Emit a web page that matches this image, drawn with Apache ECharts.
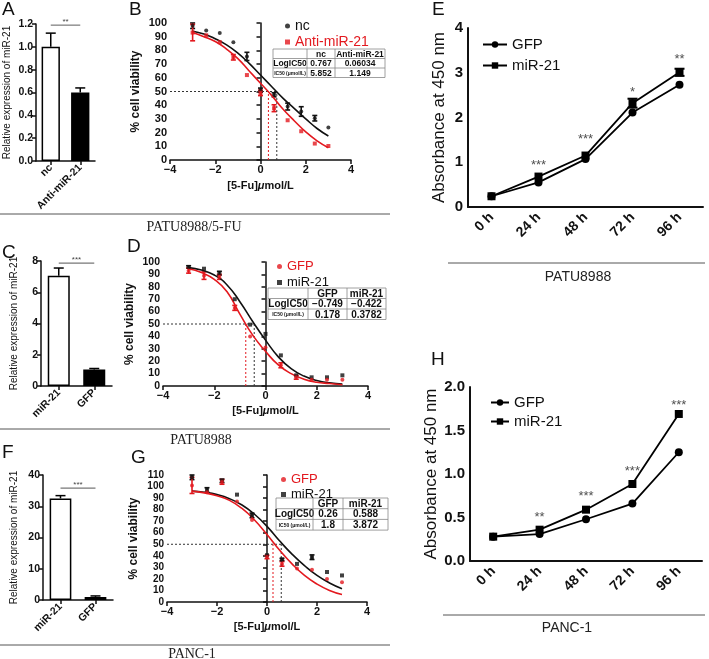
<!DOCTYPE html>
<html>
<head>
<meta charset="utf-8">
<script src="https://cdn.jsdelivr.net/npm/echarts@6/dist/echarts.min.js"></script>
<style>html,body{margin:0;padding:0;background:#fff}#c{width:709px;height:659px}</style>
</head>
<body>
<div id="c"></div>
<script>
// ---------------- DATA ----------------
// Panel A (bar)
const catA = ['nc', 'Anti-miR-21'];
const valA = [1.0, 0.6];
const errA = [0.12, 0.04];
// Panel C (bar)
const catC = ['miR-21', 'GFP'];
const valC = [7.05, 1.05];
const errC = [0.5, 0.07];
// Panel F (bar)
const catF = ['miR-21', 'GFP'];
const valF = [32.5, 1.0];
const errF = [0.9, 0.3];

// dose-response x values (log concentration)
const doses = [-3, -2.4, -1.8, -1.2, -0.6, 0, 0.6, 1.2, 1.8, 2.4, 3];
const fitX = [-3, -2.5, -2, -1.5, -1, -0.5, 0, 0.5, 1, 1.5, 2, 2.5, 3];

// Panel B
const ncB = [98, 94.6, 92.7, 85.9, 75.6, 51, 47.6, 39, 35.4, 30.5, 23.7];
const ncBErr = [2, 0, 0, 0, 3, 1.5, 1.5, 2.5, 3.5, 2, 0];
const antiB = [93, 91, 86, 75, 62, 49, 37.8, 29, 21, 12, 10.2];
const antiBErr = [6, 0, 0, 2, 0, 2, 2.5, 0, 0, 0, 0];
const ncBFit = [94, 92, 88.5, 84, 78, 70.5, 62, 53.5, 45, 37.5, 30, 23, 17.5];
const antiBFit = [93, 90, 86.5, 81, 74, 65, 56, 47, 37, 28.5, 20.5, 14, 9];
const icB = { black: 0.72, red: 0.35 };

// Panel D
const gfpD = [93, 89, 88, 63, 40, 31, 16.7, 7, 5, 5, 5];
const gfpDErr = [2, 3, 2, 2, 0, 0, 2, 1.5, 0, 0, 0];
const mirD = [96, 94.6, 91, 70, 49.5, 42, 24.7, 8.6, 7, 7, 8.6];
const mirDErr = [1, 0, 1.5, 0, 0, 0, 0, 0, 0, 0, 0];
const gfpDFit = [94.5, 91.5, 86, 76, 58, 41, 28, 17, 10, 5.5, 3, 2, 1];
const mirDFit = [95.5, 93.5, 89.5, 81.5, 68, 52, 37, 23.5, 14, 8, 4.5, 2.5, 1.5];
const icD = { black: -0.44, red: -0.77 };

// Panel G
const gfpG = [101, 95, 104, 87, 71, 39, 33, 29, 28, 20, 17];
const gfpGErr = [7, 0, 2, 0, 0, 1.5, 2, 0, 0, 0, 0];
const mirG = [108, 97, 105, 93, 75, 40.5, 36.8, 33, 38.8, 26, 23];
const mirGErr = [2, 2, 1.5, 0, 2, 0, 1, 0, 2, 0, 0];
const gfpGFit = [96, 94.5, 92, 88, 81, 71, 58.5, 45, 33, 23, 15.5, 10, 6.5];
const mirGFit = [96, 95, 93, 89.5, 84, 76, 65.5, 53, 41.5, 31.5, 23, 16.5, 11.5];
const icG = { black: 0.57, red: 0.24 };

// Panels E and H (time course)
const hours = ['0 h', '24 h', '48 h', '72 h', '96 h'];
const gfpE = [0.24, 0.55, 1.07, 2.11, 2.73];
const mirE = [0.24, 0.68, 1.15, 2.32, 3.01];
const mirEErr = [0, 0, 0, 0.1, 0.08];
const sigE = ['***', '***', '*', '**'];
const sigEY = [0.92, 1.50, 2.55, 3.29];
const gfpH = [0.28, 0.31, 0.48, 0.66, 1.25];
const mirH = [0.28, 0.36, 0.59, 0.885, 1.69];
const sigH = ['**', '***', '***', '***'];
const sigHY = [0.50, 0.74, 1.03, 1.79];

// Tables
const tableB = [['', 'nc', 'Anti-miR-21'], ['LogIC50', '0.767', '0.06034'], ['IC50 (μmol/L)', '5.852', '1.149']];
const tableD = [['', 'GFP', 'miR-21'], ['LogIC50', '\u22120.749', '\u22120.422'], ['IC50 (μmol/L)', '0.178', '0.3782']];
const tableG = [['', 'GFP', 'miR-21'], ['LogIC50', '0.26', '0.588'], ['IC50 (μmol/L)', '1.8', '3.872']];

// ---------------- STYLE HELPERS ----------------
const FONT = '"Liberation Sans", Arial, Helvetica, sans-serif';
const SERIF = '"Liberation Serif", "Times New Roman", serif';
const RED = '#e3191f';
const BLK = '#111';

function minusFmt(v) { return v < 0 ? '\u2212' + Math.abs(v) : String(v); }

function valAxis(grid, opt) {
  return Object.assign({
    type: 'value', gridIndex: grid,
    axisLine: { show: true, lineStyle: { color: BLK, width: 1.5 } },
    axisTick: { show: true, length: 4, lineStyle: { color: BLK, width: 1.5 } },
    axisLabel: { color: BLK, fontFamily: FONT, fontWeight: 'bold', fontSize: 10.5, margin: 3 },
    splitLine: { show: false },
    nameLocation: 'middle',
    nameTextStyle: { color: BLK, fontFamily: FONT, fontSize: 10 }
  }, opt);
}
function catAxis(grid, data, opt) {
  return Object.assign({
    type: 'category', gridIndex: grid, data: data, boundaryGap: true,
    axisLine: { show: true, lineStyle: { color: BLK, width: 1.5 } },
    axisTick: { show: true, alignWithLabel: true, length: 4, lineStyle: { color: BLK, width: 1.5 } },
    axisLabel: { color: BLK, fontFamily: FONT, fontWeight: 'bold', fontSize: 10.5, rotate: 45, margin: 5, interval: 0 },
    splitLine: { show: false }
  }, opt);
}

function errRender(color, cap, lw, topOnly) {
  return function (params, api) {
    const x = api.value(0), lo = api.value(1), hi = api.value(2);
    const a = api.coord([x, lo]), b = api.coord([x, hi]);
    const st = { stroke: color, lineWidth: lw };
    const ch = [
      { type: 'line', shape: { x1: a[0], y1: a[1], x2: b[0], y2: b[1] }, style: st },
      { type: 'line', shape: { x1: b[0] - cap, y1: b[1], x2: b[0] + cap, y2: b[1] }, style: st }
    ];
    if (!topOnly) ch.push({ type: 'line', shape: { x1: a[0] - cap, y1: a[1], x2: a[0] + cap, y2: a[1] }, style: st });
    return { type: 'group', children: ch };
  };
}
function errData(xs, v, e) {
  const out = [];
  for (let i = 0; i < v.length; i++) if (e[i] > 0) out.push([xs[i], v[i] - e[i], v[i] + e[i]]);
  return out;
}
function barErrData(v, e) { return v.map((d, i) => [i, d, d + e[i]]); }

function sigRender(text) {
  return function (params, api) {
    const y = api.value(1);
    const a = api.coord([0, y]), b = api.coord([1, y]);
    return { type: 'group', children: [
      { type: 'line', shape: { x1: a[0], y1: a[1], x2: b[0], y2: b[1] }, style: { stroke: '#777', lineWidth: 1.2 } },
      { type: 'text', style: { text: text, x: (a[0] + b[0]) / 2, y: a[1] + 1, align: 'center', verticalAlign: 'bottom', fontSize: 8, fontFamily: FONT, fill: '#444' } }
    ] };
  };
}

function zip(xs, ys) { return xs.map((x, i) => [x, ys[i]]); }

function barSeries(grid, vals, err) {
  return [
    { type: 'bar', xAxisIndex: grid, yAxisIndex: grid, barWidth: '62%', silent: true,
      data: vals.map((v, i) => ({ value: v, itemStyle: { color: i === 0 ? '#fff' : '#000', borderColor: '#000', borderWidth: 1.5 } })) },
    { type: 'custom', xAxisIndex: grid, yAxisIndex: grid, silent: true, z: 1,
      renderItem: errRender('#000', 5, 1.5, true), data: barErrData(vals, err) }
  ];
}

function doseSeries(grid, nameA, colA, symA, vA, eA, fitA, nameB, colB, symB, vB, eB, fitB, ic) {
  const s = [];
  const right = Math.max(ic.black, ic.red);
  s.push({ type: 'line', xAxisIndex: grid, yAxisIndex: grid, data: [[-4, 50], [right, 50]], symbol: 'none', silent: true,
    lineStyle: { color: '#333', width: 1, type: [2, 2] } });
  s.push({ type: 'line', xAxisIndex: grid, yAxisIndex: grid, data: [[ic.black, 0], [ic.black, 50]], symbol: 'none', silent: true,
    lineStyle: { color: '#333', width: 1, type: [2, 2] } });
  s.push({ type: 'line', xAxisIndex: grid, yAxisIndex: grid, data: [[ic.red, 0], [ic.red, 50]], symbol: 'none', silent: true,
    lineStyle: { color: RED, width: 1, type: [2, 2] } });
  s.push({ type: 'line', xAxisIndex: grid, yAxisIndex: grid, data: zip(fitX, fitA), smooth: 0.5, symbol: 'none', silent: true,
    lineStyle: { color: colA, width: 1.6 } });
  s.push({ type: 'line', xAxisIndex: grid, yAxisIndex: grid, data: zip(fitX, fitB), smooth: 0.5, symbol: 'none', silent: true,
    lineStyle: { color: colB, width: 1.6 } });
  s.push({ type: 'custom', xAxisIndex: grid, yAxisIndex: grid, silent: true, renderItem: errRender(colA, 2.5, 1.6, false), data: errData(doses, vA, eA) });
  s.push({ type: 'custom', xAxisIndex: grid, yAxisIndex: grid, silent: true, renderItem: errRender(colB, 2.5, 1.6, false), data: errData(doses, vB, eB) });
  s.push({ name: nameA, type: 'scatter', xAxisIndex: grid, yAxisIndex: grid, data: zip(doses, vA), symbol: symA, symbolSize: 4, itemStyle: { color: colA }, z: 5 });
  s.push({ name: nameB, type: 'scatter', xAxisIndex: grid, yAxisIndex: grid, data: zip(doses, vB), symbol: symB, symbolSize: 4, itemStyle: { color: colB }, z: 5 });
  return s;
}

function timeSeries(grid, gfp, mir, mirErr, sig, sigY, suffix) {
  const s = [
    { name: 'GFP#' + suffix, type: 'line', xAxisIndex: grid, yAxisIndex: grid, data: gfp, symbol: 'circle', symbolSize: 8,
      itemStyle: { color: '#000' }, lineStyle: { color: '#000', width: 1.8 }, z: 3 },
    { name: 'miR-21#' + suffix, type: 'line', xAxisIndex: grid, yAxisIndex: grid, data: mir, symbol: 'rect', symbolSize: 8,
      itemStyle: { color: '#000' }, lineStyle: { color: '#000', width: 1.8 }, z: 3 },
    { type: 'scatter', xAxisIndex: grid, yAxisIndex: grid, data: sigY.map((v, i) => [i + 1, v]), symbolSize: 1, silent: true,
      itemStyle: { color: 'transparent' },
      label: { show: true, position: 'inside', formatter: p => sig[p.dataIndex], fontSize: 13, fontFamily: FONT, color: '#222' } }
  ];
  if (mirErr) {
    s.push({ type: 'custom', xAxisIndex: grid, yAxisIndex: grid, silent: true, z: 4,
      renderItem: errRender('#000', 5, 2, false), data: errData([0, 1, 2, 3, 4], mir, mirErr) });
  }
  return s;
}

function table(x, y, colW, rowH, rows) {
  const ch = [];
  const totalW = colW.reduce((a, b) => a + b, 0);
  const totalH = rowH * rows.length;
  ch.push({ type: 'rect', shape: { x: x, y: y, width: totalW, height: totalH }, style: { fill: '#fff', stroke: '#888', lineWidth: 0.8 } });
  for (let r = 1; r < rows.length; r++)
    ch.push({ type: 'line', shape: { x1: x, y1: y + r * rowH, x2: x + totalW, y2: y + r * rowH }, style: { stroke: '#888', lineWidth: 0.8 } });
  let cx = x;
  for (let c = 0; c < colW.length; c++) {
    if (c > 0) ch.push({ type: 'line', shape: { x1: cx, y1: y, x2: cx, y2: y + totalH }, style: { stroke: '#888', lineWidth: 0.8 } });
    for (let r = 0; r < rows.length; r++) {
      const t = rows[r][c];
      if (!t) continue;
      const small = (c === 0 && r === 2);
      ch.push({ type: 'text', style: { text: t, x: cx + colW[c] / 2, y: y + r * rowH + rowH / 2 + 0.5, align: 'center', verticalAlign: 'middle',
        fontSize: small ? 5 : (rowH > 10 ? 10 : 8.5), fontWeight: 'bold', fontFamily: FONT, fill: '#111' } });
    }
    cx += colW[c];
  }
  return { type: 'group', silent: true, children: ch };
}

function letter(t, x, y) {
  return { type: 'text', style: { text: t, x: x, y: y, fontSize: 19, fontFamily: FONT, fill: '#111' } };
}
function hline(x1, x2, y) {
  return { type: 'line', shape: { x1: x1, y1: y, x2: x2, y2: y }, style: { stroke: '#555', lineWidth: 1 } };
}
function caption(t, x, y, serif) {
  return { type: 'text', style: { text: t, x: x, y: y, align: 'center', verticalAlign: 'middle',
    fontSize: serif ? 14 : 14, fontFamily: serif ? SERIF : FONT, fill: '#222' } };
}

// ---------------- CHART ----------------
const chart = echarts.init(document.getElementById('c'), null, { renderer: 'canvas' });

const doseName = '[5-Fu]{i|μ}mol/L';
const doseNameStyle = { color: BLK, fontFamily: FONT, fontSize: 11, fontWeight: 'bold', rich: { i: { fontStyle: 'italic', fontSize: 11, fontWeight: 'bold', fontFamily: FONT } } };
const viaName = { color: BLK, fontFamily: FONT, fontSize: 12, fontWeight: 'bold' };

const option = {
  animation: false,
  backgroundColor: '#fff',
  grid: [
    { left: 36, top: 24, width: 59, height: 137 },   // A
    { left: 170, top: 23, width: 181, height: 137 }, // B
    { left: 41, top: 261, width: 71, height: 125 },  // C
    { left: 163, top: 262, width: 205, height: 124 },// D
    { left: 43, top: 475, width: 70, height: 125 },  // F
    { left: 167, top: 475, width: 200, height: 127 },// G
    { left: 468, top: 28, width: 235, height: 179 }, // E
    { left: 470, top: 387, width: 232, height: 174 } // H
  ],
  xAxis: [
    catAxis(0, catA),
    valAxis(1, { min: -4, max: 4, interval: 2, axisLabel: { color: BLK, fontFamily: FONT, fontWeight: 'bold', fontSize: 11, margin: 4, formatter: minusFmt },
      name: doseName, nameGap: 20, nameTextStyle: doseNameStyle }),
    catAxis(2, catC),
    valAxis(3, { min: -4, max: 4, interval: 2, axisLabel: { color: BLK, fontFamily: FONT, fontWeight: 'bold', fontSize: 11, margin: 4, formatter: minusFmt },
      name: doseName, nameGap: 19, nameTextStyle: doseNameStyle }),
    catAxis(4, catF),
    valAxis(5, { min: -4, max: 4, interval: 2, axisLabel: { color: BLK, fontFamily: FONT, fontWeight: 'bold', fontSize: 11, margin: 4, formatter: minusFmt },
      name: doseName, nameGap: 19, nameTextStyle: doseNameStyle }),
    catAxis(6, hours, { axisLabel: { color: BLK, fontFamily: FONT, fontWeight: 'bold', fontSize: 14, rotate: 45, margin: 8, interval: 0 },
      axisLine: { lineStyle: { color: BLK, width: 2 } }, axisTick: { alignWithLabel: true, length: 6, lineStyle: { color: BLK, width: 2 } } }),
    catAxis(7, hours, { axisLabel: { color: BLK, fontFamily: FONT, fontWeight: 'bold', fontSize: 14, rotate: 45, margin: 8, interval: 0 },
      axisLine: { lineStyle: { color: BLK, width: 2 } }, axisTick: { alignWithLabel: true, length: 6, lineStyle: { color: BLK, width: 2 } } })
  ],
  yAxis: [
    valAxis(0, { min: 0, max: 1.2, interval: 0.2, axisLabel: { color: BLK, fontFamily: FONT, fontWeight: 'bold', fontSize: 10.5, margin: 3, formatter: v => v.toFixed(1) },
      name: 'Relative expression of miR-21', nameGap: 24 }),
    valAxis(1, { min: 0, max: 100, interval: 10, axisLabel: { color: BLK, fontFamily: FONT, fontWeight: 'bold', fontSize: 11, margin: 3 },
      name: '% cell viability', nameGap: 28, nameTextStyle: viaName }),
    valAxis(2, { min: 0, max: 8, interval: 2, name: 'Relative expression of miR-21', nameGap: 22 }),
    valAxis(3, { min: 0, max: 100, interval: 10, axisLabel: { color: BLK, fontFamily: FONT, fontWeight: 'bold', fontSize: 10.5, margin: 3 },
      name: '% cell viability', nameGap: 27, nameTextStyle: viaName }),
    valAxis(4, { min: 0, max: 40, interval: 10, name: 'Relative expression of miR-21', nameGap: 24 }),
    valAxis(5, { min: 0, max: 110, interval: 10, axisLabel: { color: BLK, fontFamily: FONT, fontWeight: 'bold', fontSize: 10, margin: 3 },
      name: '% cell viability', nameGap: 27, nameTextStyle: viaName }),
    valAxis(6, { min: 0, max: 4, interval: 1, axisLabel: { color: BLK, fontFamily: FONT, fontWeight: 'bold', fontSize: 15, margin: 5 },
      axisLine: { show: true, lineStyle: { color: BLK, width: 2 } }, axisTick: { length: 6, lineStyle: { color: BLK, width: 2 } },
      name: 'Absorbance at 450 nm', nameGap: 20, nameTextStyle: { color: BLK, fontFamily: FONT, fontSize: 17 } }),
    valAxis(7, { min: 0, max: 2, interval: 0.5, axisLabel: { color: BLK, fontFamily: FONT, fontWeight: 'bold', fontSize: 15, margin: 5, formatter: v => v.toFixed(1) },
      axisLine: { show: true, lineStyle: { color: BLK, width: 2 } }, axisTick: { length: 6, lineStyle: { color: BLK, width: 2 } },
      name: 'Absorbance at 450 nm', nameGap: 30, nameTextStyle: { color: BLK, fontFamily: FONT, fontSize: 17 } })
  ],
  legend: [
    { left: 280, top: 14, orient: 'vertical', itemGap: 2, itemWidth: 5, itemHeight: 5, selectedMode: false,
      formatter: n => n.split('#')[0], textStyle: { fontSize: 14, fontFamily: FONT },
      data: [{ name: 'nc#B', textStyle: { color: '#111' } }, { name: 'Anti-miR-21#B', textStyle: { color: RED } }] },
    { left: 272, top: 255, orient: 'vertical', itemGap: 3, itemWidth: 5, itemHeight: 5, selectedMode: false,
      formatter: n => n.split('#')[0], textStyle: { fontSize: 13, fontFamily: FONT },
      data: [{ name: 'GFP#D', textStyle: { color: RED } }, { name: 'miR-21#D', textStyle: { color: '#111' } }] },
    { left: 276, top: 468, orient: 'vertical', itemGap: 2, itemWidth: 5, itemHeight: 5, selectedMode: false,
      formatter: n => n.split('#')[0], textStyle: { fontSize: 13, fontFamily: FONT },
      data: [{ name: 'GFP#G', textStyle: { color: RED } }, { name: 'miR-21#G', textStyle: { color: '#111' } }] },
    { left: 477, top: 32, orient: 'vertical', itemGap: 6, itemWidth: 24, itemHeight: 8, selectedMode: false,
      formatter: n => n.split('#')[0], textStyle: { fontSize: 15, fontFamily: FONT, color: '#111' },
      data: ['GFP#E', 'miR-21#E'] },
    { left: 485, top: 390, orient: 'vertical', itemGap: 4, itemWidth: 18, itemHeight: 8, selectedMode: false,
      formatter: n => n.split('#')[0], textStyle: { fontSize: 15, fontFamily: FONT, color: '#111' },
      data: ['GFP#H', 'miR-21#H'] }
  ],
  series: [].concat(
    barSeries(0, valA, errA),
    [{ type: 'custom', xAxisIndex: 0, yAxisIndex: 0, silent: true, renderItem: sigRender('**'), data: [[0, 1.19]] }],
    barSeries(2, valC, errC),
    [{ type: 'custom', xAxisIndex: 2, yAxisIndex: 2, silent: true, renderItem: sigRender('***'), data: [[0, 7.87]] }],
    barSeries(4, valF, errF),
    [{ type: 'custom', xAxisIndex: 4, yAxisIndex: 4, silent: true, renderItem: sigRender('***'), data: [[0, 35.8]] }],
    doseSeries(1, 'nc#B', BLK, 'circle', ncB, ncBErr, ncBFit, 'Anti-miR-21#B', RED, 'rect', antiB, antiBErr, antiBFit, icB),
    doseSeries(3, 'miR-21#D', BLK, 'rect', mirD, mirDErr, mirDFit, 'GFP#D', RED, 'circle', gfpD, gfpDErr, gfpDFit, icD),
    doseSeries(5, 'miR-21#G', BLK, 'rect', mirG, mirGErr, mirGFit, 'GFP#G', RED, 'circle', gfpG, gfpGErr, gfpGFit, icG),
    timeSeries(6, gfpE, mirE, mirEErr, sigE, sigEY, 'E'),
    timeSeries(7, gfpH, mirH, null, sigH, sigHY, 'H')
  ),
  graphic: [
    letter('A', 2, 0), letter('B', 129, 0), letter('C', 2, 243), letter('D', 127, 237),
    letter('F', 2, 443), letter('G', 131, 448), letter('E', 432, 0), letter('H', 431, 350),
    hline(0, 390, 214), hline(0, 390, 429), hline(0, 390, 645),
    caption('PATU8988/5-FU', 194, 227, true), caption('PATU8988', 201, 440, true), caption('PANC-1', 192, 654, true),
    hline(448, 705, 263), caption('PATU8988', 578, 277, false),
    hline(443, 705, 615), caption('PANC-1', 567, 628, false),
    table(273, 49, [34, 28, 50], 9.5, tableB),
    table(268, 288, [40, 39, 39], 10.5, tableD),
    table(276, 498, [37, 30, 45], 10.7, tableG)
  ]
};
chart.setOption(option);
</script>
</body>
</html>
